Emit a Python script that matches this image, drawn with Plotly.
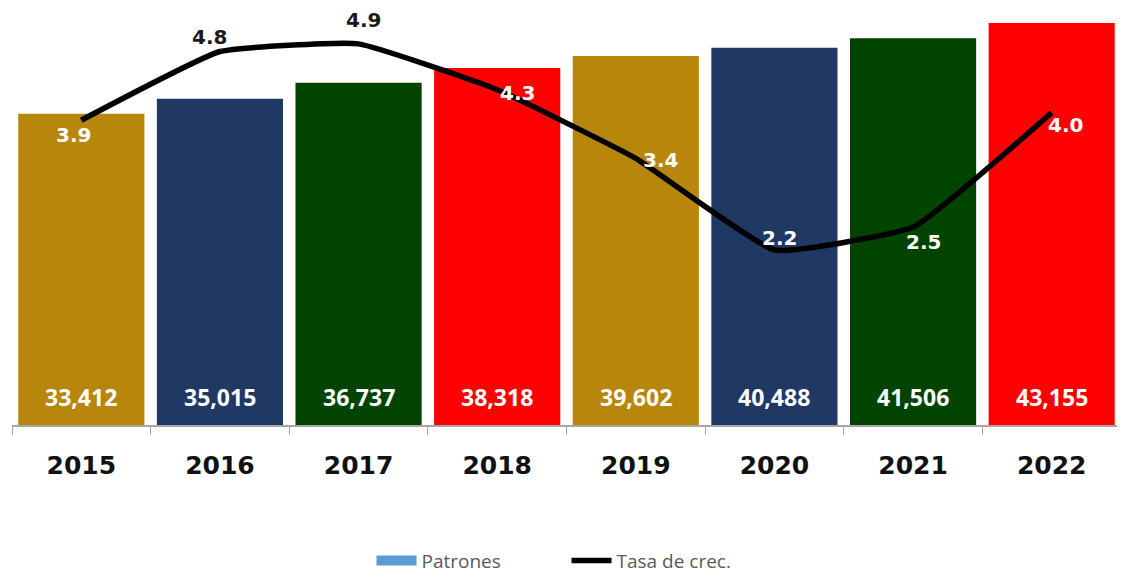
import plotly.graph_objects as go

years = ["2015", "2016", "2017", "2018", "2019", "2020", "2021", "2022"]
patrones = [33412, 35015, 36737, 38318, 39602, 40488, 41506, 43155]
tasa = [3.9, 4.8, 4.9, 4.3, 3.4, 2.2, 2.5, 4.0]
bar_colors = ["#B8860B", "#1F3864", "#004400", "#FF0000",
              "#B8860B", "#1F3864", "#004400", "#FF0000"]
# label placement (x shift, y shift) and colour for each growth-rate label
label_shift = [(-8, -15), (-10, 15), (5, 24), (20, -3), (25, -2), (5, 12), (10, -15), (14, -12)]
label_color = ["white", "#1a1a1a", "#1a1a1a", "white", "white", "white", "white", "white"]

fig = go.Figure()
fig.add_trace(go.Bar(
    x=years, y=patrones, marker=dict(color=bar_colors, line=dict(width=0)),
    showlegend=False, hoverinfo="skip",
))
fig.add_trace(go.Scatter(x=[None], y=[None], name="Patrones", mode="lines",
                         line=dict(color="#5B9BD5", width=12), showlegend=True))
fig.add_trace(go.Scatter(
    x=years, y=tasa, yaxis="y2", mode="lines", name="Tasa de crec.",
    line=dict(color="black", width=5.5, shape="spline", smoothing=0.35),
))

for i, v in enumerate(patrones):
    fig.add_annotation(x=i, y=0, xref="x", yref="y", text=f"{v:,}",
                       showarrow=False, yanchor="bottom", yshift=10,
                       font=dict(family="Open Sans", size=23, color="white", weight="bold"))

for i, v in enumerate(tasa):
    dx, dy = label_shift[i]
    fig.add_annotation(x=i, y=v, xref="x", yref="y2", text=f"{v:.1f}",
                       showarrow=False, xshift=dx, yshift=dy,
                       font=dict(family="DejaVu Sans", size=20, color=label_color[i], weight="bold"))

fig.update_layout(
    width=1125, height=573,
    margin=dict(l=4, r=12, t=0, b=156, autoexpand=False),
    paper_bgcolor="white", plot_bgcolor="white",
    bargap=0.09,
    xaxis=dict(type="category", categoryorder="array", categoryarray=years,
               range=[-0.5, len(years) - 0.5], automargin=False,
               showline=True, linecolor="#A6A6A6", linewidth=1.5,
               ticks="outside", tickson="boundaries", ticklen=8, tickcolor="#A6A6A6",
               tickfont=dict(family="DejaVu Sans", size=25, color="#111111", weight="bold"),
               ticklabelstandoff=17, tickangle=0, showgrid=False),
    yaxis=dict(range=[0, 44765], visible=False, showgrid=False, automargin=False),
    yaxis2=dict(range=[-0.092, 5.37], overlaying="y", visible=False, showgrid=False,
                automargin=False),
    legend=dict(orientation="h", x=0.5, xanchor="center", y=-0.325, yanchor="middle",
                font=dict(family="Open Sans", size=19, color="#595959"),
                itemwidth=40, entrywidth=140, tracegroupgap=0),
)

fig.write_html("out.html")
